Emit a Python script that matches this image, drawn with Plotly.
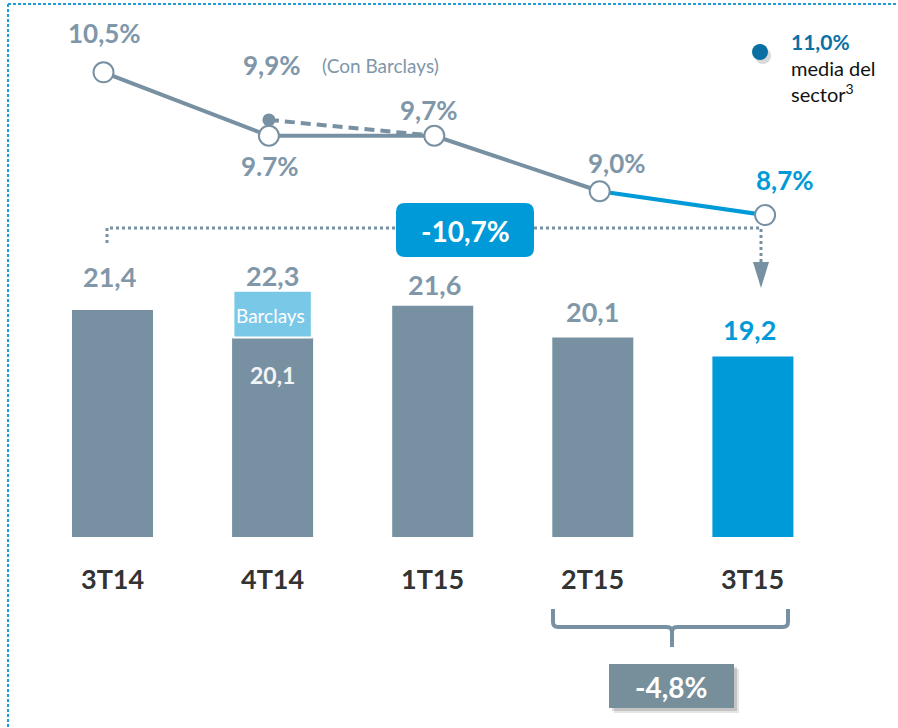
import plotly.graph_objects as go

# ---------------- data ----------------
quarters = ["3T14", "4T14", "1T15", "2T15", "3T15"]
bar_values = [21.4, 20.1, 21.6, 20.1, 19.2]          # core values
bar_labels = ["21,4", "22,3", "21,6", "20,1", "19,2"]
barclays_quarter = "4T14"
barclays_add = 2.2                                     # 20,1 -> 22,3
barclays_inner_label = "20,1"

ratio_values = [10.5, 9.7, 9.7, 9.0, 8.7]
ratio_labels = ["10,5%", "9.7%", "9,7%", "9,0%", "8,7%"]
ratio_barclays = 9.9
ratio_barclays_label = "9,9%"
sector_label = "11,0%"
change_total = "-10,7%"
change_q = "-4,8%"

# ---------------- style ----------------
W, H = 898, 728
FONT = "Lato"
GREY = "#7891A2"
GREY_TXT = "#8097A9"
BLUE = "#009AD8"
LBLUE = "#7AC8E8"
DARK = "#333333"
DBLUE = "#0A70A3"

bar_colors = [GREY, GREY, GREY, GREY, BLUE]
label_colors = [GREY_TXT, GREY_TXT, GREY_TXT, GREY_TXT, BLUE]
label_lift = [33, 15, 21, 26, 27]          # px above the bar top
label_dx = [-3, 0, 2, 0, -3]

ratio_lift = [39, -30, 26, 28, 35]
ratio_dx = [1, 1, -5, 17, 20]
ratio_colors = [GREY_TXT, GREY_TXT, GREY_TXT, GREY_TXT, BLUE]

def X(p):
    return p / W

def Y(p):
    return 1 - p / H

xi = list(range(len(quarters)))
b_idx = quarters.index(barclays_quarter)

fig = go.Figure()

# bars
fig.add_trace(go.Bar(x=xi, y=bar_values, width=0.506, marker_color=bar_colors,
                     marker_line_width=0, xaxis="x", yaxis="y", hoverinfo="skip"))
fig.add_trace(go.Bar(x=[b_idx], y=[barclays_add], base=[bar_values[b_idx]], width=0.49,
                     marker_color=LBLUE, marker_line=dict(color="white", width=2),
                     xaxis="x", yaxis="y", hoverinfo="skip"))

# line chart (own axes)
fig.add_trace(go.Scatter(x=xi[:4], y=ratio_values[:4], mode="lines",
                         line=dict(color=GREY, width=4), xaxis="x2", yaxis="y2", hoverinfo="skip"))
fig.add_trace(go.Scatter(x=xi[3:], y=ratio_values[3:], mode="lines",
                         line=dict(color=BLUE, width=4), xaxis="x2", yaxis="y2", hoverinfo="skip"))
fig.add_trace(go.Scatter(x=[b_idx, b_idx + 1], y=[ratio_barclays, ratio_values[b_idx + 1]],
                         mode="lines", line=dict(color=GREY, width=4, dash="10px,6px"),
                         xaxis="x2", yaxis="y2", hoverinfo="skip"))
fig.add_trace(go.Scatter(x=[b_idx], y=[ratio_barclays], mode="markers",
                         marker=dict(size=13, color=GREY), xaxis="x2", yaxis="y2", hoverinfo="skip"))
fig.add_trace(go.Scatter(x=xi, y=ratio_values, mode="markers",
                         marker=dict(size=20, color="white", line=dict(color=GREY, width=2)),
                         xaxis="x2", yaxis="y2", hoverinfo="skip"))

ann = []
# bar value labels
for i, v in enumerate(bar_values):
    top = v + (barclays_add if i == b_idx else 0)
    ann.append(dict(x=i, y=top, xref="x", yref="y", text=f"<b>{bar_labels[i]}</b>",
                    showarrow=False, yshift=label_lift[i], xshift=label_dx[i],
                    xanchor="center", yanchor="middle",
                    font=dict(family=FONT, size=27, color=label_colors[i])))
ann.append(dict(x=b_idx, y=bar_values[b_idx] + barclays_add / 2, xref="x", yref="y",
                text="Barclays", showarrow=False, yshift=-1, xshift=-2,
                xanchor="center", yanchor="middle",
                font=dict(family=FONT, size=19, color="white")))
ann.append(dict(x=b_idx, y=bar_values[b_idx], xref="x", yref="y",
                text=f"<b>{barclays_inner_label}</b>", showarrow=False, yshift=-37,
                xanchor="center", yanchor="middle",
                font=dict(family=FONT, size=23, color="#F2F4F6")))
# category labels
for i, q in enumerate(quarters):
    ann.append(dict(x=i, y=Y(578), xref="x", yref="paper", text=f"<b>{q}</b>",
                    showarrow=False, xanchor="center", yanchor="middle",
                    font=dict(family=FONT, size=27, color=DARK)))
# ratio labels
for i, v in enumerate(ratio_values):
    ann.append(dict(x=i, y=v, xref="x2", yref="y2", text=f"<b>{ratio_labels[i]}</b>",
                    showarrow=False, yshift=ratio_lift[i], xshift=ratio_dx[i],
                    xanchor="center", yanchor="middle",
                    font=dict(family=FONT, size=26, color=ratio_colors[i])))
ann.append(dict(x=b_idx, y=ratio_barclays, xref="x2", yref="y2",
                text=f"<b>{ratio_barclays_label}</b>", showarrow=False, yshift=55, xshift=3,
                xanchor="center", yanchor="middle",
                font=dict(family=FONT, size=26, color=GREY_TXT)))
ann.append(dict(x=X(380), y=Y(65), xref="paper", yref="paper", text="(Con Barclays)",
                showarrow=False, xanchor="center", yanchor="middle",
                font=dict(family=FONT, size=19, color=GREY_TXT)))
# sector legend
ann.append(dict(x=X(789), y=Y(41), xref="paper", yref="paper", text=f"<b>{sector_label}</b>",
                showarrow=False, xanchor="left", yanchor="middle",
                font=dict(family=FONT, size=21, color=DBLUE)))
ann.append(dict(x=X(789), y=Y(68), xref="paper", yref="paper", text="media del",
                showarrow=False, xanchor="left", yanchor="middle",
                font=dict(family=FONT, size=20, color="#111111")))
ann.append(dict(x=X(789), y=Y(93), xref="paper", yref="paper", text="sector<sup>3</sup>",
                showarrow=False, xanchor="left", yanchor="middle",
                font=dict(family=FONT, size=20, color="#111111")))
# change boxes
ann.append(dict(x=X(465), y=Y(231), xref="paper", yref="paper", text=f"<b>{change_total}</b>",
                showarrow=False, xanchor="center", yanchor="middle",
                font=dict(family=FONT, size=28, color="white")))
ann.append(dict(x=X(671), y=Y(687), xref="paper", yref="paper", text=f"<b>{change_q}</b>",
                showarrow=False, xanchor="center", yanchor="middle",
                font=dict(family=FONT, size=28, color="white")))

def rrect(x0, y0, x1, y1, r):
    return (f"M {X(x0+r)},{Y(y0)} L {X(x1-r)},{Y(y0)} Q {X(x1)},{Y(y0)} {X(x1)},{Y(y0+r)} "
            f"L {X(x1)},{Y(y1-r)} Q {X(x1)},{Y(y1)} {X(x1-r)},{Y(y1)} L {X(x0+r)},{Y(y1)} "
            f"Q {X(x0)},{Y(y1)} {X(x0)},{Y(y1-r)} L {X(x0)},{Y(y0+r)} Q {X(x0)},{Y(y0)} {X(x0+r)},{Y(y0)} Z")

shapes = []
# dotted frame
shapes.append(dict(type="line", xref="paper", yref="paper", x0=X(8), y0=Y(4), x1=X(898), y1=Y(4),
                   line=dict(color="#1E9BDB", width=2, dash="3px,2px")))
shapes.append(dict(type="line", xref="paper", yref="paper", x0=X(8), y0=Y(4), x1=X(8), y1=Y(728),
                   line=dict(color="#1E9BDB", width=2, dash="3px,2px")))
# dotted connector
conn = (f"M {X(107)},{Y(243)} L {X(107)},{Y(228)} L {X(396)},{Y(228)} "
        f"M {X(534)},{Y(228)} L {X(761)},{Y(228)} L {X(761)},{Y(263)}")
shapes.append(dict(type="path", xref="paper", yref="paper", path=conn,
                   line=dict(color=GREY, width=3, dash="dot"), layer="below"))
shapes.append(dict(type="path", xref="paper", yref="paper",
                   path=f"M {X(753)},{Y(262)} L {X(769)},{Y(262)} L {X(761)},{Y(288)} Z",
                   fillcolor=GREY, line=dict(width=0)))
# -10,7% box
shapes.append(dict(type="path", xref="paper", yref="paper", path=rrect(396, 203, 534, 257, 9),
                   fillcolor=BLUE, line=dict(width=0)))
# brace
brace = (f"M {X(553)},{Y(609)} L {X(553)},{Y(622)} Q {X(553)},{Y(627)} {X(558)},{Y(627)} "
         f"L {X(667)},{Y(627)} Q {X(672)},{Y(627)} {X(672)},{Y(632)} L {X(672)},{Y(647)} "
         f"M {X(672)},{Y(632)} Q {X(672)},{Y(627)} {X(677)},{Y(627)} L {X(783)},{Y(627)} "
         f"Q {X(788)},{Y(627)} {X(788)},{Y(622)} L {X(788)},{Y(609)}")
shapes.append(dict(type="path", xref="paper", yref="paper", path=brace,
                   line=dict(color=GREY, width=4)))
# -4,8% box with shadow
shapes.append(dict(type="rect", xref="paper", yref="paper", x0=X(614), y0=Y(669), x1=X(739), y1=Y(713),
                   fillcolor="rgba(0,0,0,0.10)", line=dict(width=0)))
shapes.append(dict(type="rect", xref="paper", yref="paper", x0=X(612), y0=Y(667), x1=X(737), y1=Y(711),
                   fillcolor="rgba(0,0,0,0.14)", line=dict(width=0)))
shapes.append(dict(type="rect", xref="paper", yref="paper", x0=X(609), y0=Y(664), x1=X(734), y1=Y(708),
                   fillcolor="#778F9B", line=dict(width=0)))
# legend dot
shapes.append(dict(type="circle", xref="paper", yref="paper", x0=X(755), y0=Y(48), x1=X(771), y1=Y(64),
                   fillcolor="rgba(0,0,0,0.15)", line=dict(width=0)))
shapes.append(dict(type="circle", xref="paper", yref="paper", x0=X(752), y0=Y(44), x1=X(768), y1=Y(60),
                   fillcolor=DBLUE, line=dict(width=0)))

ydom = [1 - 537 / H, 1]
fig.update_layout(
    width=W, height=H, margin=dict(l=0, r=0, t=0, b=0),
    paper_bgcolor="white", plot_bgcolor="rgba(0,0,0,0)",
    showlegend=False, barmode="overlay",
    xaxis=dict(range=[-112.5 / 160.1, (W - 112.5) / 160.1], visible=False, domain=[0, 1]),
    yaxis=dict(range=[10.69, 36.02], visible=False, domain=ydom),
    xaxis2=dict(range=[-103.5 / 165.4, (W - 103.5) / 165.4], visible=False, overlaying="x"),
    yaxis2=dict(range=[4.64, 11.412], visible=False, overlaying="y"),
    annotations=ann, shapes=shapes,
)

fig.write_html("out.html", config={"displayModeBar": False},
               post_script="document.body.style.margin='0';document.body.style.overflow='hidden';")
